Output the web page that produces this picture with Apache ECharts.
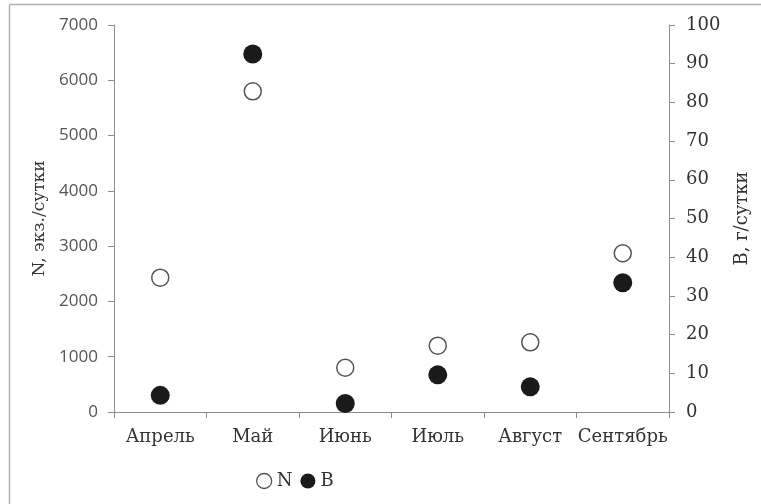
<!DOCTYPE html>
<html>
<head>
<meta charset="utf-8">
<script src="https://cdn.jsdelivr.net/npm/echarts@6/dist/echarts.min.js"></script>
<style>html,body{margin:0;padding:0;background:#fff;}#c{width:761px;height:504px;}</style>
</head>
<body>
<div id="c"></div>
<script>
var months = ['Апрель', 'Май', 'Июнь', 'Июль', 'Август', 'Сентябрь'];
var nValues = [2430, 5800, 800, 1200, 1260, 2870];
var bValues = [4.3, 92.5, 2.2, 9.6, 6.5, 33.4];
var leftTicks = {min: 0, max: 7000, interval: 1000};
var rightTicks = {min: 0, max: 100, interval: 10};

var serif = 'DejaVu Serif';
var chart = echarts.init(document.getElementById('c'), null, {renderer: 'canvas'});
var axisLineStyle = {color: '#8c8c8c', width: 1};
chart.setOption({
  animation: false,
  backgroundColor: '#fff',
  grid: {left: 114, right: 92, top: 25, bottom: 92},
  graphic: [
    {type: 'line', shape: {x1: 9.5, y1: 4.5, x2: 761, y2: 4.5}, style: {stroke: '#b0b0b0', lineWidth: 1.5}, silent: true},
    {type: 'line', shape: {x1: 9.5, y1: 4.5, x2: 9.5, y2: 504}, style: {stroke: '#b0b0b0', lineWidth: 1.5}, silent: true}
  ],
  legend: {
    left: 251, top: 467,
    itemWidth: 15, itemHeight: 15, itemGap: 8,
    textStyle: {fontFamily: serif, fontSize: 18, color: '#333'},
    data: [
      {name: 'N', icon: 'circle', itemStyle: {color: '#fff', borderColor: '#555', borderWidth: 1.3}},
      {name: 'B', icon: 'circle', itemStyle: {color: '#1a1a1a', borderWidth: 0}}
    ]
  },
  xAxis: {
    type: 'category',
    data: months,
    boundaryGap: true,
    axisLine: {lineStyle: axisLineStyle},
    axisTick: {show: true, length: 6, lineStyle: axisLineStyle, alignWithLabel: false},
    axisLabel: {fontFamily: serif, fontSize: 18, color: '#333', margin: 16, interval: 0},
    splitLine: {show: false}
  },
  yAxis: [
    {
      type: 'value', position: 'left',
      min: leftTicks.min, max: leftTicks.max, interval: leftTicks.interval,
      name: 'N, экз./сутки', nameLocation: 'middle', nameGap: 64,
      nameTextStyle: {fontFamily: serif, fontSize: 17, color: '#333'},
      axisLine: {show: true, lineStyle: axisLineStyle},
      axisTick: {show: true, length: 6, lineStyle: axisLineStyle},
      axisLabel: {fontFamily: 'Open Sans', fontSize: 17, color: '#555', margin: 16,
        formatter: function (v) { return String(v); }},
      splitLine: {show: false}
    },
    {
      type: 'value', position: 'right',
      min: rightTicks.min, max: rightTicks.max, interval: rightTicks.interval,
      name: 'B, г/сутки', nameLocation: 'middle', nameGap: 64, nameRotate: 90,
      nameTextStyle: {fontFamily: serif, fontSize: 18, color: '#333'},
      axisLine: {show: true, lineStyle: axisLineStyle},
      axisTick: {show: true, length: 6, lineStyle: axisLineStyle},
      axisLabel: {fontFamily: serif, fontSize: 18, color: '#333', margin: 17,
        formatter: function (v) { return String(v); }},
      splitLine: {show: false}
    }
  ],
  series: [
    {
      name: 'N', type: 'scatter', yAxisIndex: 0, data: nValues,
      symbol: 'circle', symbolSize: 17,
      itemStyle: {color: '#fff', borderColor: '#555', borderWidth: 1.5, opacity: 1}
    },
    {
      name: 'B', type: 'scatter', yAxisIndex: 1, data: bValues,
      symbol: 'circle', symbolSize: 19,
      itemStyle: {color: '#1a1a1a', borderWidth: 0, opacity: 1}
    }
  ]
});
</script>
</body>
</html>
